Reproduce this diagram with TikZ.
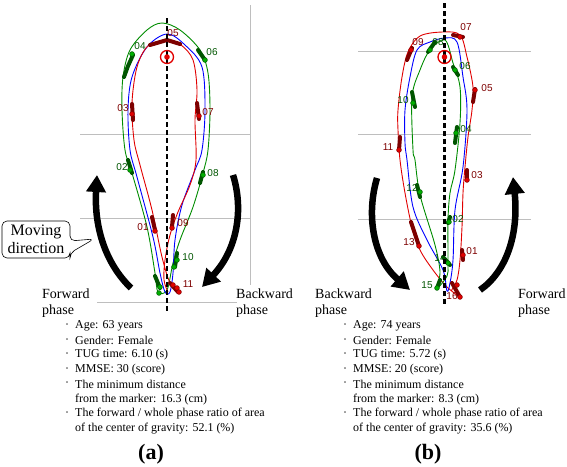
\documentclass[tikz,border=0pt]{standalone}
\usepackage{fontspec}
\setmainfont{Liberation Serif}
\newfontfamily\lblfont{Liberation Sans}
\usetikzlibrary{arrows.meta}
\definecolor{gline}{RGB}{0,140,0}
\definecolor{bline}{RGB}{0,0,255}
\definecolor{rline}{RGB}{225,0,0}
\definecolor{gdark}{RGB}{0,85,0}
\definecolor{rdark}{RGB}{125,0,0}
\definecolor{gdot}{RGB}{0,175,0}
\definecolor{gridgray}{RGB}{190,190,190}
\tikzset{
  gridline/.style={gridgray, line width=0.7pt},
  axisdash/.style={black, line width=2.2pt, dash pattern=on 5pt off 3pt},
  gpath/.style={gline, line width=0.9pt},
  bpath/.style={bline, line width=0.9pt},
  rpath/.style={rline, line width=0.9pt},
  gblob/.style={gdark, line width=4pt, line cap=round},
  rblob/.style={rdark, line width=4pt, line cap=round},
  gmark/.style={fill=gdot, draw=gdark, line width=0.5pt},
  rmark/.style={fill=rline, draw=rdark, line width=0.5pt},
  glab/.style={text=gdark, font=\lblfont\fontsize{10}{10}\selectfont, inner sep=0pt},
  rlab/.style={text=rdark, font=\lblfont\fontsize{10}{10}\selectfont, inner sep=0pt},
  bigarrow/.style={black, line width=6.5pt, -{Triangle[length=17pt,width=19pt]}},
  phasetxt/.style={font=\fontsize{14}{15}\selectfont, anchor=west, inner sep=0pt},
  infotxt/.style={font=\fontsize{12}{13}\selectfont, anchor=west, inner sep=0pt},
  bul/.style={font=\fontsize{12}{13}\selectfont, inner sep=0pt},
  paneltitle/.style={font=\bfseries\fontsize{22}{24}\selectfont, inner sep=0pt},
}
\begin{document}
\begin{tikzpicture}[x=1pt,y=-1pt]
\useasboundingbox (0,0) rectangle (567,466);

% ---------------- panel (a) ----------------
\draw[gridline] (250,5) -- (250,285);
\draw[gridline] (80,134) -- (250,134);
\draw[gridline] (80,218) -- (250,218);
\draw[gridline] (97,302) -- (237,302);

\draw[gpath] plot[smooth cycle, tension=0.55] coordinates {
 (162,23) (147,30) (130,50) (123,77) (122,110) (125,150) (132,173) (147,227)
 (155,273) (158,292) (167,290) (173,263) (180,240) (193,207) (203,173)
 (208,150) (210,110) (208,73) (200,50) (180,30)};
\draw[bpath] plot[smooth cycle, tension=0.55] coordinates {
 (167,34) (185,45) (202,67) (205,110) (202,150) (195,170) (182,205) (175,240)
 (173,273) (170,292) (165,292) (160,273) (153,237) (137,177) (130,150)
 (128,110) (132,77) (147,47)};
\draw[rpath] plot[smooth, tension=0.55] coordinates {
 (178,292) (170,283) (162,257) (152,210) (140,165) (134,140) (132,103)
 (137,67) (148,46) (167,40) (181,45) (193,60) (197,90) (195,120) (196,160)
 (190,185) (178,212) (170,235) (165,260) (164,280) (168,292)};

% blobs (a)
\draw[gblob] (133,55) -- (128,66) -- (124,77);
\draw[gblob] (198,50) -- (205,60);
\draw[gblob] (128,160) -- (132,173);
\draw[gblob] (203,172) -- (200,183);
\draw[gblob] (177,253) -- (175,267);
\draw[gblob] (155,276) -- (160,288);
\draw[rblob] (150,45) -- (167,40) -- (180,44);
\draw[rblob] (132,104) -- (133,120);
\draw[rblob] (197,103) -- (199,119);
\draw[rblob] (152,217) -- (155,230);
\draw[rblob] (173,215) -- (172,227);
\draw[rblob] (170,283) -- (178,292);

% markers (a)
\foreach \p in {(132,54),(205,60),(130,170),(203,175),(177,260),(174,267),(160,287),(159,293)}
  \filldraw[gmark] \p circle (2.4);
\foreach \p in {(132,114),(199,116),(155,231),(172,228),(173,285),(177,288),(179,292)}
  \filldraw[rmark] \p circle (2.4);

% labels (a)
\node[rlab] (a05) at (173,33) {05};
\node[glab] (a04) at (140,46) {04};
\node[glab] (a06) at (212,52) {06};
\node[rlab] (a03) at (123,108) {03};
\node[rlab] (a07) at (208,112) {07};
\node[glab] (a02) at (122,167) {02};
\node[glab] (a08) at (213,173) {08};
\node[rlab] (a01) at (143,227) {01};
\node[rlab] (a09) at (183,223) {09};
\node[glab] (a10) at (188,257) {10};
\node[rlab] (a11) at (188,284) {11};

\draw[axisdash] (167,18) -- (167,312);
% target (a)
\draw[rline, line width=1.3pt] (167,57) circle (6.5);
\fill[rline] (167,57) circle (2.8);

% arrows (a)
\draw[bigarrow] (131,288) .. controls (106,264) and (94,228) .. (97,175);
\draw[bigarrow] (233,175) .. controls (244,210) and (237,250) .. (202,287);

% callout
\draw[black, line width=0.6pt, fill=white, rounded corners=5pt]
  (2,221) -- (70,221) -- (70,241) -- (94,239) -- (70,253) -- (70,258) -- (2,258) -- cycle;
\node[font=\fontsize{16}{17.5}\selectfont, align=center, inner sep=0pt] (callout) at (36,239.5) {Moving\\direction};

\node[phasetxt] (afw1) at (42,294) {Forward};
\node[phasetxt] (afw2) at (42,311) {phase};
\node[phasetxt] (abw1) at (236,294) {Backward};
\node[phasetxt] (abw2) at (236,311) {phase};

% info (a)
\node[bul] (ab1) at (67,326) {·};
\node[infotxt] (ai1) at (75,326) {Age: 63 years};
\node[bul] (ab2) at (67,340.7) {·};
\node[infotxt] (ai2) at (75,340.7) {Gender: Female};
\node[bul] (ab3) at (67,355) {·};
\node[infotxt] (ai3) at (75,355) {TUG time: 6.10 (s)};
\node[bul] (ab4) at (67,369.7) {·};
\node[infotxt] (ai4) at (75,369.7) {MMSE: 30 (score)};
\node[bul] (ab5) at (67,384.5) {·};
\node[infotxt] (ai5) at (75,384.5) {The minimum distance};
\node[infotxt] (ai6) at (75,399.5) {from the marker: 16.3 (cm)};
\node[bul] (ab7) at (67,414) {·};
\node[infotxt] (ai7) at (75,414) {The forward / whole phase ratio of area};
\node[infotxt] (ai8) at (75,428.5) {of the center of gravity: 52.1 (\%)};
\node[paneltitle] (pa) at (151,454) {(a)};

% ---------------- panel (b) ----------------
\draw[gridline] (358,51) -- (531,51);
\draw[gridline] (358,134) -- (531,134);
\draw[gridline] (358,219) -- (531,219);

\draw[rpath] plot[smooth, tension=0.55] coordinates {
 (461,298) (447,287) (433,270) (420,250) (412,227) (405,193) (400,160)
 (398,130) (398,110) (402,77) (408,52) (420,36) (443,32) (460,35) (467,57)
 (473,87) (472,110) (468,137) (465,167) (463,193) (462,227) (460,260)
 (457,280) (451,291)};
\draw[bpath] plot[smooth cycle, tension=0.55] coordinates {
 (445,38) (457,42) (463,77) (467,110) (463,167) (455,210) (453,260) (450,283)
 (447,291) (443,270) (427,240) (413,207) (407,160) (405,143) (405,110)
 (410,77) (417,50) (430,42)};
\draw[gpath] plot[smooth cycle, tension=0.55] coordinates {
 (445,40) (453,63) (460,87) (460,123) (455,170) (450,193) (448,220) (448,263)
 (447,276) (437,288) (440,272) (435,245) (420,195) (415,160) (413,150)
 (412,97) (420,70) (430,50)};

% blobs (b)
\draw[gblob] (428,52) -- (435,42);
\draw[gblob] (453,67) -- (458,75);
\draw[gblob] (412,92) -- (415,107);
\draw[gblob] (457,127) -- (455,143);
\draw[gblob] (417,185) -- (420,197);
\draw[gblob] (450,217) -- (448,223);
\draw[gblob] (443,257) -- (450,265);
\draw[gblob] (440,280) -- (437,288);
\draw[rblob] (453,35) -- (463,37);
\draw[rblob] (407,60) -- (412,48);
\draw[rblob] (475,89) -- (473,102);
\draw[rblob] (400,137) -- (399,150);
\draw[rblob] (467,170) -- (467,180);
\draw[rblob] (411,222) -- (419,246);
\draw[rblob] (462,250) -- (463,260);
\draw[rblob] (452,283) -- (460,297);

% markers (b)
\foreach \p in {(430,50),(455,70),(413,103),(456,133),(420,192),(449,222),(448,263),(437,288)}
  \filldraw[gmark] \p circle (2.4);
\foreach \p in {(460,37),(411,50),(475,90),(399,150),(467,180),(463,255),(419,246),(457,285),(460,297)}
  \filldraw[rmark] \p circle (2.4);

% labels (b)
\node[rlab] (b07) at (466,27) {07};
\node[rlab] (b09) at (418,42) {09};
\node[glab] (b08) at (438,42) {08};
\node[glab] (b06) at (465,66) {06};
\node[rlab] (b05) at (487,88) {05};
\node[glab] (b10) at (403,100) {10};
\node[glab] (b04) at (466,129) {04};
\node[rlab] (b11) at (388,147) {11};
\node[rlab] (b03) at (477,175) {03};
\node[glab] (b12) at (412,188) {12};
\node[glab] (b02) at (458,219) {02};
\node[rlab] (b13) at (409,242) {13};
\node[rlab] (b01) at (472,251) {01};
\node[glab] (b14) at (440,258) {14};
\node[glab] (b15) at (427,285) {15};
\node[rlab] (b16) at (452,296) {16};

\draw[axisdash] (444.5,3) -- (444.5,306);
% target (b)
\draw[rline, line width=1.3pt] (444.5,57) circle (6.5);
\fill[rline] (444.5,57) circle (2.8);

% arrows (b)
\draw[bigarrow] (377,178) .. controls (366,215) and (373,258) .. (410,290);
\draw[bigarrow] (480,290) .. controls (506,272) and (519,235) .. (513,177);

\node[phasetxt] (bbw1) at (315,294) {Backward};
\node[phasetxt] (bbw2) at (315,311) {phase};
\node[phasetxt] (bfw1) at (518,294) {Forward};
\node[phasetxt] (bfw2) at (518,311) {phase};

% info (b)
\node[bul] (bb1) at (345,326) {·};
\node[infotxt] (bi1) at (353,326) {Age: 74 years};
\node[bul] (bb2) at (345,340.7) {·};
\node[infotxt] (bi2) at (353,340.7) {Gender: Female};
\node[bul] (bb3) at (345,355) {·};
\node[infotxt] (bi3) at (353,355) {TUG time: 5.72 (s)};
\node[bul] (bb4) at (345,369.7) {·};
\node[infotxt] (bi4) at (353,369.7) {MMSE: 20 (score)};
\node[bul] (bb5) at (345,384.5) {·};
\node[infotxt] (bi5) at (353,384.5) {The minimum distance};
\node[infotxt] (bi6) at (353,399.5) {from the marker: 8.3 (cm)};
\node[bul] (bb7) at (345,414) {·};
\node[infotxt] (bi7) at (353,414) {The forward / whole phase ratio of area};
\node[infotxt] (bi8) at (353,428.5) {of the center of gravity: 35.6 (\%)};
\node[paneltitle] (pb) at (428,454) {(b)};
\end{tikzpicture}
\end{document}
